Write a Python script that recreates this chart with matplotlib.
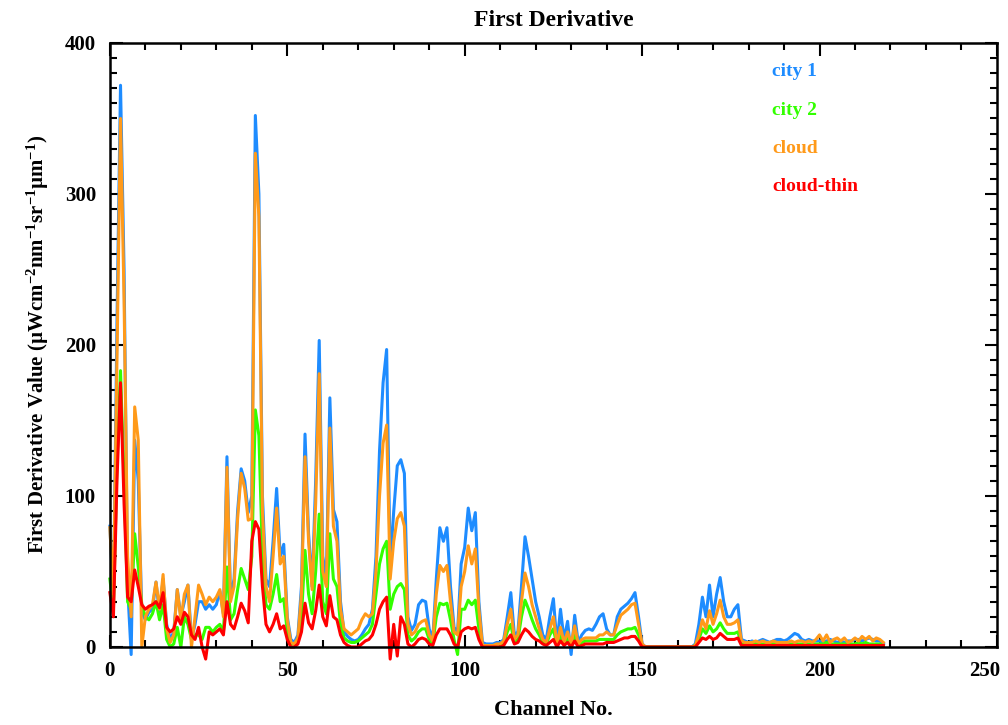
import numpy as np
import matplotlib.pyplot as plt
import matplotlib.transforms as mtransforms

plt.rcParams['font.family'] = ['Liberation Serif', 'DejaVu Serif']
plt.rcParams['font.weight'] = 'bold'
plt.rcParams['mathtext.fontset'] = 'custom'
plt.rcParams['mathtext.rm'] = 'Liberation Serif:bold'
plt.rcParams['mathtext.it'] = 'Liberation Serif:bold'
plt.rcParams['mathtext.bf'] = 'Liberation Serif:bold'

# channel numbers 0..218
channels = np.arange(219)

# city 1 (blue)
city1 = [
    80, 30, 215, 372, 250, 40, -5, 137, 110, 23,
    18, 23, 25, 43, 22, 45, 15, 5, 10, 38,
    20, 30, 41, 5, 15, 30, 30, 25, 28, 25,
    28, 37, 22, 126, 33, 45, 90, 118, 110, 89,
    100, 352, 300, 100, 45, 40, 70, 105, 60, 68,
    20, 5, 3, 8, 40, 141, 75, 40, 110, 203,
    60, 45, 165, 91, 83, 30, 10, 7, 5, 4,
    5, 8, 12, 15, 25, 60, 130, 175, 197, 55,
    90, 120, 124, 115, 20, 11, 15, 28, 31, 30,
    12, 5, 45, 79, 70, 79, 40, 13, 10, 55,
    66, 92, 77, 89, 30, 3, 2, 2, 2, 3,
    3, 5, 20, 36, 8, 10, 40, 73, 60, 45,
    30, 20, 8, 5, 20, 32, 2, 25, 5, 17,
    -5, 21, 3, 8, 11, 12, 11, 15, 20, 22,
    12, 8, 8, 20, 25, 27, 29, 32, 36, 20,
    2, 0, 0, 0, 0, 0, 0, 0, 0, 0,
    0, 0, 0, 0, 0, 2, 15, 33, 20, 41,
    20, 35, 46, 30, 20, 20, 25, 28, 5, 4,
    3, 4, 3, 4, 5, 4, 3, 4, 5, 5,
    4, 5, 7, 9, 8, 5, 4, 5, 4, 4,
    4, 3, 4, 5, 4, 3, 4, 3, 4, 4,
    5, 5, 4, 5, 6, 5, 4, 4, 2,
]

# city 2 (green)
city2 = [
    45, 25, 120, 183, 110, 30, 25, 75, 53, 28,
    20, 18, 22, 30, 18, 28, 5, 0, 2, 13,
    0, 20, 15, 5, 8, 8, 5, 13, 13, 10,
    13, 15, 10, 53, 18, 22, 38, 52, 45, 38,
    60, 157, 140, 60, 28, 25, 35, 48, 30, 32,
    10, 2, 2, 4, 20, 64, 35, 22, 50, 88,
    30, 22, 75, 45, 40, 15, 6, 4, 3, 3,
    4, 6, 8, 10, 15, 35, 55, 65, 70, 25,
    35, 40, 42, 38, 8, 4, 6, 10, 12, 12,
    5, 2, 20, 29, 28, 29, 18, 5, -5, 25,
    25, 31, 28, 31, 12, 0, 0, 0, 0, 0,
    0, 2, 10, 15, 3, 5, 20, 31, 25, 18,
    12, 8, 3, 2, 8, 12, 1, 8, 2, 6,
    1, 8, 1, 3, 4, 4, 4, 4, 5, 5,
    5, 5, 5, 8, 10, 11, 12, 12, 13, 8,
    1, 0, 0, 0, 0, 0, 0, 0, 0, 0,
    0, 0, 0, 0, 0, 1, 5, 12, 9, 14,
    10, 12, 16, 12, 9, 9, 9, 10, 2, 2,
    2, 2, 2, 2, 2, 2, 2, 2, 2, 2,
    2, 2, 2, 2, 2, 2, 2, 2, 2, 2,
    2, 2, 3, 2, 2, 2, 2, 2, 2, 2,
    2, 3, 2, 3, 2, 2, 2, 2, 1,
]

# cloud (orange)
cloud = [
    79, 35, 190, 350, 230, 60, 20, 159, 137, 0,
    20, 25, 28, 43, 25, 48, 12, 3, 8, 38,
    18, 35, 41, 0, 20, 41, 35, 28, 33, 30,
    33, 38, 20, 119, 30, 40, 85, 115, 105, 84,
    85, 327, 285, 90, 40, 30, 60, 92, 55, 60,
    18, 3, 2, 6, 35, 126, 70, 38, 95, 181,
    50, 40, 145, 80, 70, 25, 12, 10, 8, 10,
    12, 18, 22, 20, 22, 50, 100, 135, 147, 45,
    70, 85, 89, 80, 15, 8, 10, 15, 17, 18,
    8, 4, 35, 54, 50, 54, 30, 10, 8, 40,
    50, 67, 55, 65, 25, 1, 1, 1, 1, 2,
    2, 4, 15, 25, 5, 8, 30, 49, 40, 28,
    20, 12, 5, 3, 12, 20, 2, 13, 3, 10,
    2, 14, 2, 5, 6, 6, 6, 6, 8, 8,
    10, 8, 8, 15, 21, 23, 25, 28, 29, 15,
    2, 0, 0, 0, 0, 0, 0, 0, 0, 0,
    0, 0, 0, 0, 0, 1, 8, 18, 12, 24,
    15, 22, 31, 20, 15, 15, 16, 18, 4, 3,
    3, 3, 4, 3, 4, 3, 3, 4, 3, 3,
    3, 3, 4, 3, 4, 4, 3, 4, 3, 5,
    8, 4, 8, 3, 5, 6, 4, 6, 3, 4,
    6, 4, 7, 5, 7, 4, 6, 5, 3,
]

# cloud-thin (red)
cloud_thin = [
    36, 20, 110, 175, 95, 33, 30, 51, 40, 28,
    25, 27, 28, 30, 26, 36, 13, 10, 12, 20,
    15, 23, 20, 8, 5, 13, 0, -8, 10, 8,
    10, 12, 8, 30, 15, 12, 20, 29, 24, 16,
    70, 83, 78, 40, 15, 10, 15, 22, 12, 14,
    5, 0, 0, 2, 10, 29, 16, 12, 24, 41,
    20, 14, 34, 20, 18, 8, 3, 1, 0, 0,
    0, 2, 4, 5, 8, 15, 25, 30, 33, -8,
    15, -6, 20, 15, 2, 0, 2, 5, 6, 5,
    2, 1, 8, 12, 12, 12, 8, 2, 0, 10,
    12, 13, 12, 13, 5, 0, 0, 0, 0, 0,
    0, 1, 5, 8, 2, 3, 8, 12, 10, 7,
    5, 4, 2, 1, 3, 5, 0, 4, 1, 3,
    0, 4, 0, 1, 2, 2, 2, 2, 2, 2,
    3, 3, 3, 4, 5, 6, 6, 7, 7, 4,
    0, 0, 0, 0, 0, 0, 0, 0, 0, 0,
    0, 0, 0, 0, 0, 0, 3, 6, 5, 7,
    5, 6, 9, 7, 5, 5, 5, 6, 1, 1,
    1, 1, 1, 1, 1, 1, 1, 1, 1, 1,
    1, 1, 1, 1, 1, 1, 1, 1, 1, 1,
    1, 1, 1, 1, 1, 1, 1, 1, 1, 1,
    1, 1, 1, 1, 1, 1, 1, 1, 1,
]

names = ['city 1', 'city 2', 'cloud', 'cloud-thin']
colors = ['#1e8cff', '#33ff00', '#ff9a1a', '#ff0000']

fig = plt.figure(figsize=(10.08, 7.25), dpi=100)
ax = fig.add_axes([0.109, 0.1076, 0.88, 0.8331])

for ys, c in zip([city1, city2, cloud, cloud_thin], colors):
    ax.plot(channels, ys, color=c, linewidth=2.2, clip_on=False)

ax.set_xlim(0, 250)
ax.set_ylim(0, 400)
ax.set_xticks(np.arange(0, 251, 50))
ax.set_xticks(np.arange(0, 251, 10), minor=True)
ax.set_yticks(np.arange(0, 401, 100))
ax.set_yticks(np.arange(0, 401, 10), minor=True)
ax.tick_params(which='both', direction='in', top=True, right=True, width=1.5)
ax.tick_params(which='major', length=9, labelsize=15, pad=10)
ax.tick_params(which='minor', length=5)
for s in ax.spines.values():
    s.set_linewidth(1.8)
for lab in ax.get_xticklabels() + ax.get_yticklabels():
    lab.set_fontweight('bold')

# keep the last x tick label inside the figure
fig.canvas.draw()
last = ax.get_xticklabels()[-1]
last.set_transform(last.get_transform() +
                   mtransforms.ScaledTranslation(-12 / 100, 0, fig.dpi_scale_trans))

ax.set_title('First Derivative', fontsize=17, fontweight='bold', pad=12)
ax.set_xlabel('Channel No.', fontsize=16, fontweight='bold', labelpad=14)
ax.set_ylabel('First Derivative Value (µWcm$^{-2}$nm$^{-1}$sr$^{-1}$µm$^{-1}$)',
              fontsize=15, fontweight='bold', labelpad=10)

# legend as coloured text
for i, (n, c) in enumerate(zip(names, colors)):
    ax.text(0.747, 0.952 - i * 0.063, n, color=c, fontsize=14, fontweight='bold',
            transform=ax.transAxes, va='center', ha='left')

fig.savefig('out.png', dpi=100)
